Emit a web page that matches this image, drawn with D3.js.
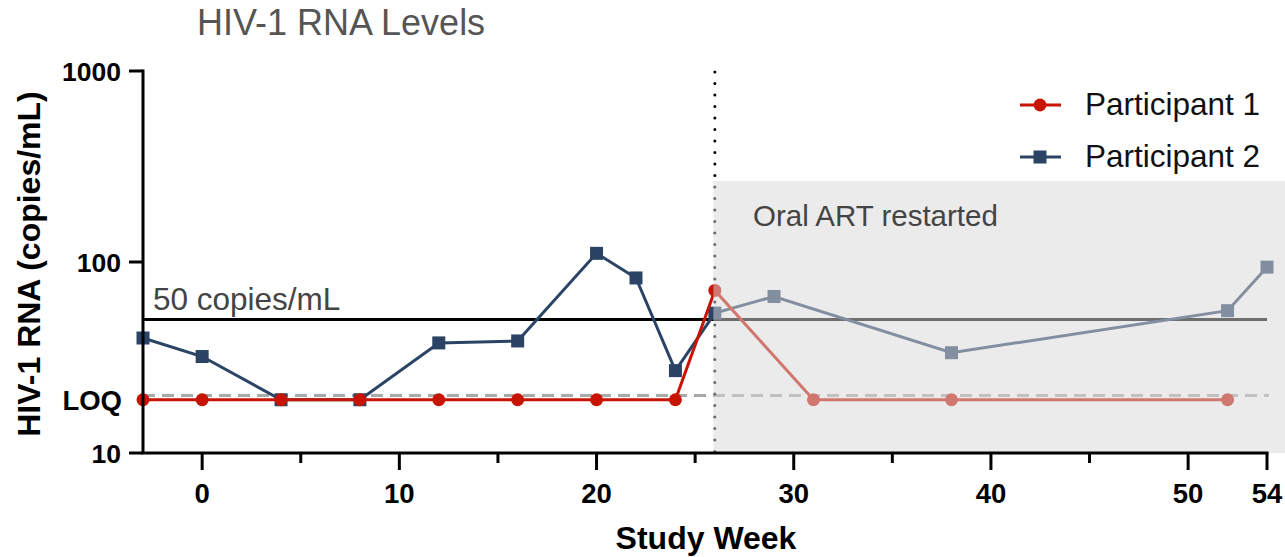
<!DOCTYPE html>
<html><head><meta charset="utf-8">
<script src="https://cdn.jsdelivr.net/npm/d3@7/dist/d3.min.js"></script>
<style>body{margin:0;background:#fff}svg{display:block;font-family:"Liberation Sans",Arial,sans-serif}</style>
</head><body><svg id="c" width="1285" height="557"></svg>
<script>
const weeks1 = [-3,0,4,8,12,16,20,24,26,31,38,52];
const p1 = [19,19,19,19,19,19,19,19,71,19,19,19];
const weeks2 = [-3,0,4,8,12,16,20,22,24,26,29,38,52,54];
const p2 = [40,32,19,19,37.7,38.6,111,82.5,27,54,66,33.5,55.6,94];
const xMajor = [0,10,20,30,40,50,54];
const xMinor = [5,15,25,35,45];
const yTicks = [10,100,1000];
const loq = 20, loqLabelVal = 19, thresh = 50, artWeek = 26;
const seriesNames = ["Participant 1","Participant 2"];
const red = "#c81405", navy = "#2b4466";

const svg = d3.select("#c");
const x = d3.scaleLinear().domain([-3,54]).range([143,1267]);
const y = d3.scaleLog().domain([10,1000]).range([453,71]);

// title
svg.append("text").attr("x",197).attr("y",35).attr("font-size",36).attr("fill","#555").text("HIV-1 RNA Levels");

// reference lines
svg.append("line").attr("x1",x(-3)).attr("x2",x(54)).attr("y1",y(thresh)).attr("y2",y(thresh)).attr("stroke","#000").attr("stroke-width",3);
svg.append("line").attr("x1",x(-3)).attr("x2",x(54)+2).attr("y1",y(loq)).attr("y2",y(loq)).attr("stroke","#aaa").attr("stroke-width",3).attr("stroke-dasharray","12 7");
svg.append("text").attr("x",153).attr("y",310).attr("font-size",31.5).attr("fill","#444").text("50 copies/mL");
svg.append("line").attr("x1",x(artWeek)).attr("x2",x(artWeek)).attr("y1",72).attr("y2",453).attr("stroke","#000").attr("stroke-width",3).attr("stroke-linecap","round").attr("stroke-dasharray","0 11.5");

// series
const line = d3.line().x(d=>x(d[0])).y(d=>y(d[1]));
const d2 = weeks2.map((w,i)=>[w,p2[i]]);
const d1 = weeks1.map((w,i)=>[w,p1[i]]);
svg.append("path").attr("d",line(d2)).attr("fill","none").attr("stroke",navy).attr("stroke-width",3);
svg.selectAll(".sq").data(d2).enter().append("rect").attr("x",d=>x(d[0])-6.5).attr("y",d=>y(d[1])-6.5).attr("width",13).attr("height",13).attr("fill",navy);
svg.append("path").attr("d",line(d1)).attr("fill","none").attr("stroke",red).attr("stroke-width",3);
svg.selectAll(".ci").data(d1).enter().append("circle").attr("cx",d=>x(d[0])).attr("cy",d=>y(d[1])).attr("r",6.5).attr("fill",red);

// shade overlay
svg.append("rect").attr("x",x(artWeek)-1.5).attr("y",181).attr("width",1285-x(artWeek)+1.5).attr("height",453-181).attr("fill","rgb(216,216,216)").attr("fill-opacity",0.51);
svg.append("text").attr("x",753).attr("y",226).attr("font-size",29.5).attr("fill","#444").text("Oral ART restarted");

// axes
const xAxis = svg.append("g").attr("transform","translate(0,453)");
xAxis.append("line").attr("x1",x(-3)-1.5).attr("x2",x(54)+1.5).attr("stroke","#000").attr("stroke-width",3);
xAxis.selectAll(".mj").data(xMajor).enter().append("line").attr("x1",d=>x(d)).attr("x2",d=>x(d)).attr("y1",0).attr("y2",17).attr("stroke","#000").attr("stroke-width",3);
xAxis.selectAll(".mn").data(xMinor).enter().append("line").attr("x1",d=>x(d)).attr("x2",d=>x(d)).attr("y1",0).attr("y2",10).attr("stroke","#000").attr("stroke-width",3);
xAxis.selectAll(".tl").data(xMajor).enter().append("text").attr("x",d=>x(d)).attr("y",50).attr("text-anchor","middle").attr("font-size",27.5).attr("font-weight","bold").text(d=>d);
svg.append("text").attr("x",706).attr("y",549).attr("text-anchor","middle").attr("font-size",32).attr("font-weight","bold").text("Study Week");

const yAxis = svg.append("g").attr("transform","translate(143,0)");
yAxis.append("line").attr("y1",y(1000)-1.5).attr("y2",453).attr("stroke","#000").attr("stroke-width",3);
yAxis.selectAll(".yt").data(yTicks).enter().append("line").attr("x1",-14).attr("x2",0).attr("y1",d=>y(d)).attr("y2",d=>y(d)).attr("stroke","#000").attr("stroke-width",3);
yAxis.selectAll(".yl").data(yTicks).enter().append("text").attr("x",-22).attr("y",d=>y(d)+9.5).attr("text-anchor","end").attr("font-size",26.5).attr("font-weight","bold").text(d=>d);
yAxis.append("text").attr("x",-21).attr("y",y(loqLabelVal)+10).attr("text-anchor","end").attr("font-size",27.5).attr("font-weight","bold").text("LOQ");
svg.append("text").attr("transform","translate(40,264) rotate(-90)").attr("text-anchor","middle").attr("font-size",32).attr("font-weight","bold").text("HIV-1 RNA (copies/mL)");

// legend
const lg = svg.append("g");
[[red,"c"],[navy,"s"]].forEach((s,i)=>{
  const ly = 105 + i*52;
  lg.append("line").attr("x1",1020).attr("x2",1061).attr("y1",ly).attr("y2",ly).attr("stroke",s[0]).attr("stroke-width",3);
  if (s[1]==="c") lg.append("circle").attr("cx",1040).attr("cy",ly).attr("r",6.5).attr("fill",s[0]);
  else lg.append("rect").attr("x",1033.5).attr("y",ly-6.5).attr("width",13).attr("height",13).attr("fill",s[0]);
  lg.append("text").attr("x",1085).attr("y",ly+10).attr("font-size",31.5).attr("fill","#111").text(seriesNames[i]);
});
</script></body></html>
